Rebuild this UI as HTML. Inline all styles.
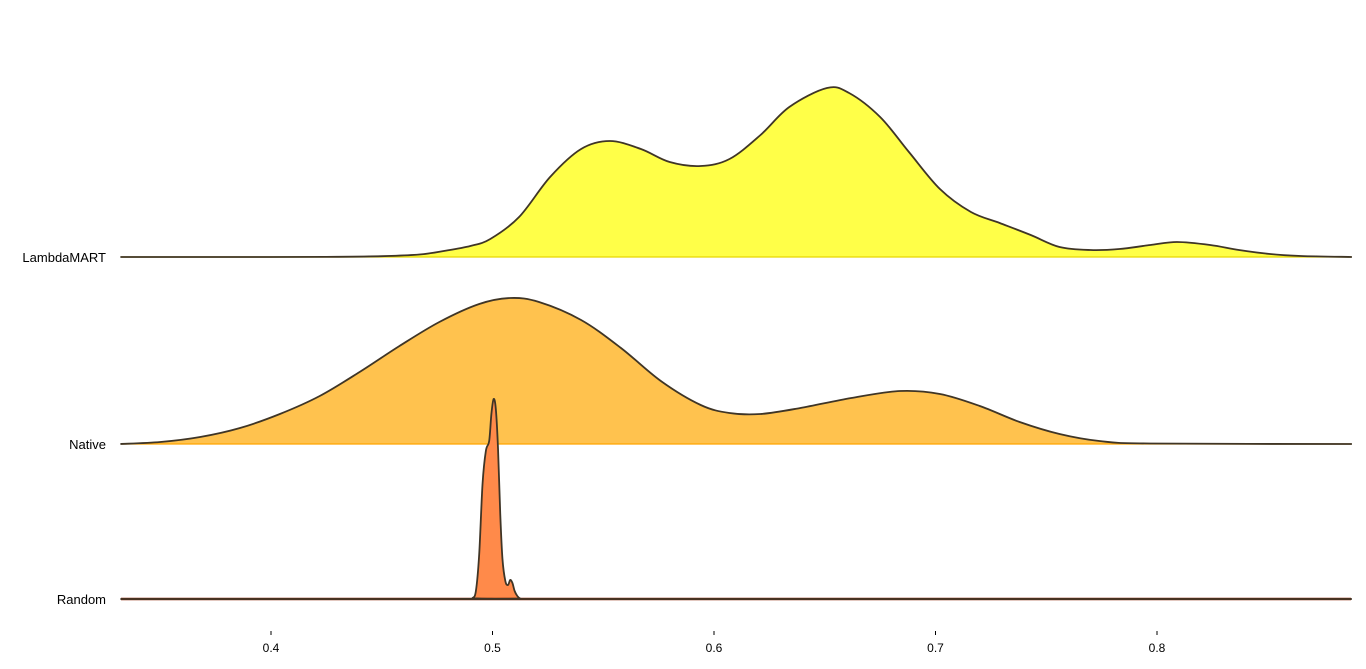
<!DOCTYPE html>
<html><head><meta charset="utf-8"><style>
body{margin:0;background:#fff;width:1366px;height:664px;overflow:hidden;font-family:"Liberation Sans",sans-serif}
</style></head><body>
<svg id="chart" width="1366" height="664" xmlns="http://www.w3.org/2000/svg"></svg>
<script>
const categories = ["LambdaMART","Native","Random"];
const lambdaX = [0.332,0.400,0.430,0.450,0.467,0.478,0.490,0.499,0.512,0.526,0.540,0.553,0.567,0.580,0.594,0.607,0.621,0.634,0.651,0.661,0.675,0.688,0.702,0.716,0.729,0.743,0.756,0.770,0.783,0.797,0.809,0.824,0.837,0.851,0.865,0.888];
const lambdaY = [0,0,0.2,0.8,2.5,6,11,18,40,80,108,116,108,95,91,98,122,150,169,164,140,105,68,45,34,22,10,7,8,12,15,12,7,3,1,0];
const nativeX = [0.332,0.350,0.368,0.386,0.404,0.422,0.440,0.458,0.476,0.494,0.508,0.521,0.540,0.558,0.576,0.594,0.607,0.621,0.639,0.662,0.684,0.702,0.720,0.738,0.756,0.774,0.797,0.888];
const nativeY = [0,2,7,16,30,48,72,98,122,140,146,142,124,96,63,39,31,30,36,46,53,50,38,22,10,3,0.5,0];
const randomX = [0.332,0.4890,0.4910,0.4925,0.4940,0.4955,0.4970,0.4985,0.4995,0.5005,0.5015,0.5025,0.5035,0.5045,0.5058,0.5070,0.5080,0.5090,0.5100,0.5112,0.5125,0.5140,0.888];
const randomY = [0,0,1,8,45,115,148,158,185,200,190,150,85,40,18,14,19,16,8,3,0.5,0,0];
const ticks = [0.4,0.5,0.6,0.7,0.8];

const NS="http://www.w3.org/2000/svg";
const svg=document.getElementById('chart');
const xs=v=>271+(v-0.4)*2215;
function el(t,a){const e=document.createElementNS(NS,t);for(const k in a)e.setAttribute(k,a[k]);svg.appendChild(e);return e;}
function path(X,Y,base){
  const p=X.map((x,i)=>[xs(x),base-Y[i]]);
  let d="M"+p[0][0]+","+p[0][1];
  for(let i=1;i<p.length;i++){
    const p0=p[i-2]||p[i-1],p1=p[i-1],p2=p[i],p3=p[i+1]||p[i];
    const c1=[p1[0]+(p2[0]-p0[0])/6,Math.min(base,p1[1]+(p2[1]-p0[1])/6)];
    const c2=[p2[0]-(p3[0]-p1[0])/6,Math.min(base,p2[1]-(p3[1]-p1[1])/6)];
    d+=` C${c1[0]},${c1[1]} ${c2[0]},${c2[1]} ${p2[0]},${p2[1]}`;
  }
  return d;
}
const series=[
 {name:"lambdamart",X:lambdaX,Y:lambdaY,base:257,fill:"#ffff48",edge:"#e8d800"},
 {name:"native",X:nativeX,Y:nativeY,base:444,fill:"#ffc24e",edge:"#ffa500"},
 {name:"random",X:randomX,Y:randomY,base:599,fill:"#ff8a4a",edge:"#8b2000"}
];
series.forEach((s,i)=>{
  const d=path(s.X,s.Y,s.base);
  const f=el('path',{d:d+` L${xs(s.X[s.X.length-1])},${s.base} L${xs(s.X[0])},${s.base} Z`,fill:s.fill,stroke:"none"});
  
  
  const b=el('line',{x1:121,x2:1351,y1:s.base,y2:s.base,stroke:s.edge,'stroke-width':i==2?2.5:1.2});
  
  
  const l=el('path',{d:d,fill:"none",stroke:"#3f3526",'stroke-width':1.8});
  
  
  const t=el('text',{x:106,y:s.base+5,'text-anchor':'end','font-size':13,fill:'#000'});
  t.textContent=categories[i];
  
  
});
ticks.forEach(v=>{
  const tk=el('line',{x1:xs(v),x2:xs(v),y1:631,y2:635,stroke:'#000','stroke-width':1});
  
  
  const t=el('text',{x:xs(v),y:652,'text-anchor':'middle','font-size':12,fill:'#000'});
  t.textContent=String(v);
  
  
});
</script>
</body></html>
